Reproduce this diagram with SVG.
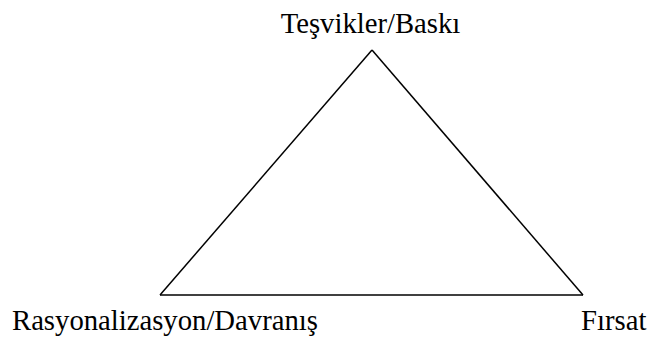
<svg xmlns="http://www.w3.org/2000/svg" width="647" height="340" viewBox="0 0 647 340">
<style>
text{font-family:"Liberation Serif","Times New Roman",serif;font-size:28.7px;fill:#000}
.edge{stroke:#000;stroke-width:1.5;fill:none}
</style>
<rect width="647" height="340" fill="#fff"/>
<g id="connectors">
<line class="edge" x1="372" y1="50" x2="160" y2="295"/>
<line class="edge" x1="372" y1="50" x2="583" y2="295"/>
<line class="edge" x1="160" y1="295" x2="583" y2="295"/>
</g>
<g id="node-top"><text x="370.5" y="33" text-anchor="middle">Teşvikler/Baskı</text></g>
<g id="node-left"><text x="12" y="329.5">Rasyonalizasyon/Davranış</text></g>
<g id="node-right"><text x="581" y="329.5">Fırsat</text></g>
</svg>
